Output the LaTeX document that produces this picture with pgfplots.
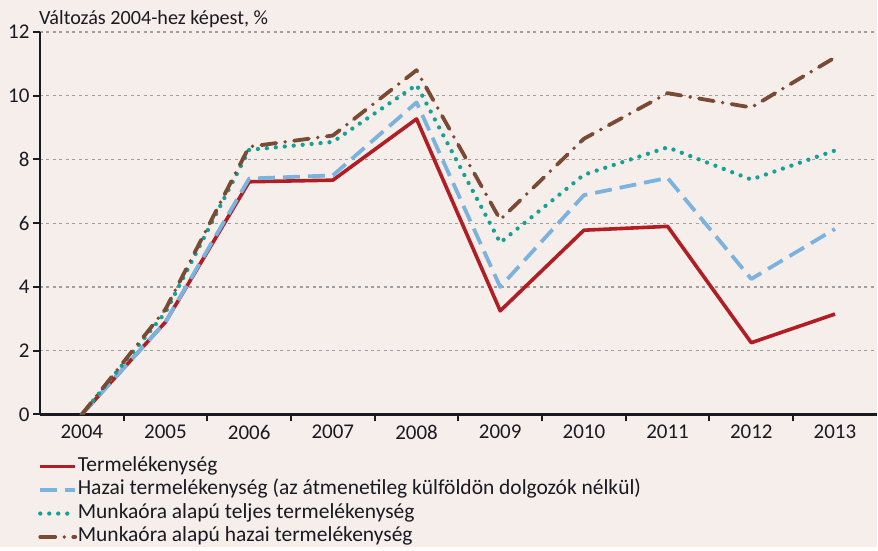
\documentclass[border=0pt]{standalone}
\usepackage{fontspec}
\setmainfont{Carlito}
\usepackage{pgfplots}
\pgfplotsset{compat=1.18}

\definecolor{bg}{HTML}{F6EEEB}
\definecolor{cred}{HTML}{B01E24}
\definecolor{cblue}{HTML}{7BB3DE}
\definecolor{cteal}{HTML}{15A194}
\definecolor{cbrown}{HTML}{7A4B34}
\definecolor{txt}{HTML}{1A1A22}

\begin{document}
\begin{tikzpicture}
\fill[bg] (-40pt,-133pt) rectangle (838pt,415pt);
\begin{axis}[
    at={(0pt,0pt)}, anchor=south west,
    scale only axis, width=838pt, height=383pt,
    xmin=-0.5, xmax=9.5, ymin=0, ymax=12,
    axis x line*=bottom, axis y line*=left,
    axis line style={line width=2.4pt, txt},
    tick align=outside, major tick length=7pt,
    tick style={line width=2pt, txt},
    ytick={0,2,...,12},
    xtick={0.5,1.5,...,8.5}, xticklabel=\empty,
    extra x ticks={0,...,9},
    extra x tick labels={2004,2005,2006,2007,2008,2009,2010,2011,2012,2013},
    extra x tick style={tick style={draw=none}},
    ymajorgrids,
    grid style={line width=1.2pt, gray!75, dash pattern=on 3pt off 3.5pt},
    ticklabel style={font=\fontsize{21}{24}\selectfont, text=txt},
    /pgf/number format/assume math mode=true,
    legend style={at={(-0.006,-0.100)}, anchor=north west, draw=none, fill=none,
        font=\fontsize{21.5}{24}\selectfont, text=txt, row sep=0pt,
        nodes={inner sep=0.5pt, text height=16pt, text depth=6.5pt}},
    legend cell align=left,
    legend image code/.code={\draw[#1] (0pt,0pt) -- (35pt,0pt);},
    every axis plot/.append style={line join=round},
]
\addplot[cred, line width=3.6pt] coordinates {
(0,0)(1,2.9)(2,7.3)(3,7.35)(4,9.27)(5,3.25)(6,5.78)(7,5.9)(8,2.25)(9,3.15)};
\addplot[cblue, line width=3.8pt, dash pattern=on 17pt off 8pt] coordinates {
(0,0)(1,2.9)(2,7.4)(3,7.5)(4,9.79)(5,4.0)(6,6.88)(7,7.42)(8,4.25)(9,5.82)};
\addplot[cteal, line width=4.3pt, line cap=round, dash pattern=on 0pt off 9pt] coordinates {
(0,0)(1,3.2)(2,8.3)(3,8.55)(4,10.34)(5,5.39)(6,7.52)(7,8.38)(8,7.37)(9,8.28)};
\addplot[cbrown, line width=3.8pt, line cap=round, dash pattern=on 15pt off 9pt on 0pt off 9pt] coordinates {
(0,0)(1,3.3)(2,8.4)(3,8.75)(4,10.8)(5,6.11)(6,8.65)(7,10.08)(8,9.63)(9,11.2)};
\legend{Termelékenység,
Hazai termelékenység (az átmenetileg külföldön dolgozók nélkül),
Munkaóra alapú teljes termelékenység,
Munkaóra alapú hazai termelékenység}
\end{axis}
\node[anchor=base west, inner sep=0pt, text=txt, font=\fontsize{20.2}{23}\selectfont] at (-1pt,390pt) {Változás 2004-hez képest, \%};
\end{tikzpicture}
\end{document}
